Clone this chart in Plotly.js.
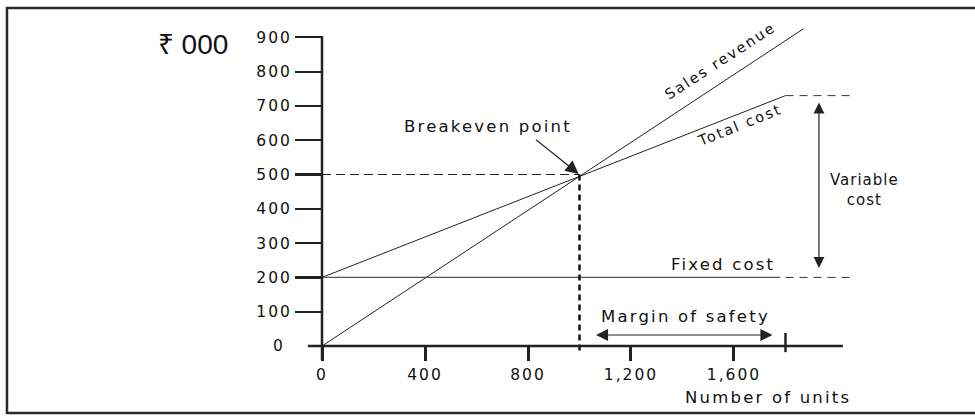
<!DOCTYPE html>
<html>
<head>
<meta charset="utf-8">
<script src="https://cdn.plot.ly/plotly-3.0.1.min.js"></script>
<style>
  html, body { margin: 0; padding: 0; background: #fff; }
  #chart { width: 975px; height: 416px; }
  .xtick text, .ytick text { letter-spacing: 2px; }
</style>
</head>
<body>
<div id="chart"></div>
<script>
// ---- data (₹ 000 vs number of units) ----
const revenueUnits = [0, 1870];
const salesRevenue = [0, 925];
const totalCostUnits = [0, 1800];
const totalCost = [200, 730];
const fixedCostUnits = [0, 1780];
const fixedCost = [200, 200];
const extensionUnits = [1800, 2050];
const totalCostExt = [730, 730];
const fixedCostExt = [200, 200];
const breakevenUnits = 1000;
const breakevenValue = 500;
const beHorizUnits = [0, breakevenUnits];
const beHorizValues = [breakevenValue, breakevenValue];
const beVertUnits = [breakevenUnits, breakevenUnits];
const beVertValues = [breakevenValue, -20];
const actualSalesUnits = 1800;
const xTickVals = [0, 400, 800, 1200, 1600];
const xTickText = ['0', '400', '800', '1,200', '1,600'];
const yTickVals = [100, 200, 300, 400, 500, 600, 700, 800, 900];
const yTickText = ['100', '200', '300', '400', '500', '600', '700', '800', '900'];

const INK = '#111';
const FONT = 'DejaVu Sans, Verdana, sans-serif';
const ls = (t, s) => '<span style="letter-spacing:' + s + 'px">' + t + '</span>';

function line(x, y, color, width, dash) {
  return { type: 'scatter', mode: 'lines', x: x, y: y,
    line: { color: color, width: width, dash: dash || 'solid' },
    hoverinfo: 'skip', showlegend: false, cliponaxis: false };
}

const traces = [
  line(revenueUnits, salesRevenue, '#222', 1),
  line(totalCostUnits, totalCost, '#222', 1),
  line(fixedCostUnits, fixedCost, '#555', 1.2),
  line(extensionUnits, totalCostExt, '#333', 1, '8px,6px'),
  line(extensionUnits, fixedCostExt, '#333', 1, '8px,6px'),
  line(beHorizUnits, beHorizValues, '#222', 1, '9px,5px'),
  line(beVertUnits, beVertValues, '#111', 2.5, '6px,4px')
];

const layout = {
  width: 975, height: 416,
  margin: { l: 250, r: 15, t: 10, b: 10 },
  paper_bgcolor: '#fff', plot_bgcolor: 'rgba(0,0,0,0)',
  showlegend: false, hovermode: false,
  font: { family: FONT, size: 15, color: INK },
  title: { text: '₹ 000', font: { family: 'Liberation Sans, Arial, sans-serif', size: 28, color: '#111' },
    xref: 'container', yref: 'container', x: 0.198, y: 0.894, xanchor: 'center', yanchor: 'middle' },
  xaxis: {
    range: [-279.6, 2477.7], anchor: 'free', position: 0.15152,
    showgrid: false, zeroline: false, showline: false,
    tickmode: 'array', tickvals: xTickVals, ticktext: xTickText,
    ticks: 'outside', ticklen: 14, tickwidth: 3, tickcolor: '#222',
    tickfont: { family: FONT, size: 15.5, color: INK }
  },
  yaxis: {
    range: [-174.9, 979.6], anchor: 'free', position: 0.10141,
    showgrid: false, zeroline: false, showline: false,
    tickmode: 'array', tickvals: yTickVals, ticktext: yTickText,
    ticks: 'outside', ticklen: 27, tickwidth: 2.2, tickcolor: '#222',
    tickfont: { family: FONT, size: 15.5, color: INK }
  },
  shapes: [
    // frame (right edge lies beyond the canvas)
    { type: 'rect', xref: 'paper', yref: 'paper', x0: -0.3423, x1: 1.08, y0: -0.0177, y1: 1.0051,
      line: { color: '#2a2a2a', width: 2.5 }, layer: 'below' },
    // x axis line
    { type: 'line', xref: 'x', yref: 'y', x0: -55, x1: 2023, y0: 0, y1: 0,
      line: { color: '#222', width: 2.5 } },
    // y axis line
    { type: 'line', xref: 'x', yref: 'y', x0: 0, x1: 0, y0: -41, y1: 904,
      line: { color: '#222', width: 2.5 } },
    // actual sales marker on x axis
    { type: 'line', xref: 'x', yref: 'y', x0: actualSalesUnits, x1: actualSalesUnits, y0: -18, y1: 38,
      line: { color: '#222', width: 2.5 } }
  ],
  annotations: [
    { x: breakevenUnits, y: breakevenValue, xref: 'x', yref: 'y', text: '', showarrow: true,
      ax: -45, ay: -36, arrowhead: 2, arrowsize: 2.4, arrowwidth: 1.1, arrowcolor: '#222', standoff: 1 },
    { x: 645, y: 641, xref: 'x', yref: 'y', text: ls('Breakeven point', 2.2), showarrow: false,
      font: { family: FONT, size: 16.5, color: INK } },
    { x: 1546, y: 831, xref: 'x', yref: 'y', text: ls('Sales revenue', 2), showarrow: false, textangle: -33,
      font: { family: FONT, size: 14.5, color: INK } },
    { x: 1623, y: 644, xref: 'x', yref: 'y', text: ls('Total cost', 2), showarrow: false, textangle: -22,
      font: { family: FONT, size: 14.5, color: INK } },
    { x: 1557, y: 239, xref: 'x', yref: 'y', text: ls('Fixed cost', 2.2), showarrow: false,
      font: { family: FONT, size: 16.5, color: INK } },
    { x: 2105, y: 455, xref: 'x', yref: 'y', text: ls('Variable', 1) + '<br>' + ls('cost', 1), showarrow: false,
      font: { family: FONT, size: 15, color: INK } },
    { x: 1930, y: totalCost[1], xref: 'x', yref: 'y', ax: 1930, ay: fixedCost[1], axref: 'x', ayref: 'y',
      text: '', showarrow: true, arrowside: 'end+start', arrowhead: 2, startarrowhead: 2,
      arrowsize: 1.8, startarrowsize: 1.8, arrowwidth: 1.2, arrowcolor: '#222', standoff: 7, startstandoff: 8 },
    { x: 1410, y: 85, xref: 'x', yref: 'y', text: ls('Margin of safety', 2.2), showarrow: false,
      font: { family: FONT, size: 16.5, color: INK } },
    { x: actualSalesUnits, y: 32, xref: 'x', yref: 'y', ax: breakevenUnits, ay: 32, axref: 'x', ayref: 'y',
      text: '', showarrow: true, arrowside: 'end+start', arrowhead: 2, startarrowhead: 2,
      arrowsize: 2.2, startarrowsize: 2.2, arrowwidth: 1.1, arrowcolor: '#222', standoff: 13, startstandoff: 15 },
    { x: 1732, y: -149, xref: 'x', yref: 'y', text: ls('Number of units', 2.2), showarrow: false,
      font: { family: FONT, size: 16.5, color: INK } },
    { x: 0.0296, y: 0, xref: 'paper', yref: 'y', text: '0', showarrow: false,
      font: { family: FONT, size: 15.5, color: INK } }
  ]
};

Plotly.newPlot('chart', traces, layout, { staticPlot: true, displayModeBar: false });
</script>
</body>
</html>
